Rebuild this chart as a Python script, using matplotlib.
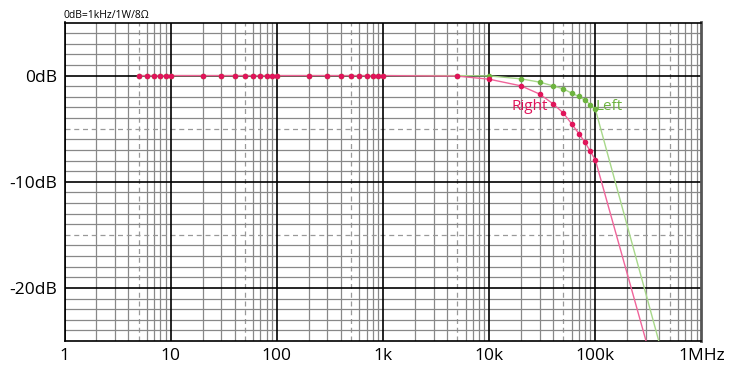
import matplotlib.pyplot as plt
import numpy as np

plt.rcParams['font.family'] = ['Open Sans', 'DejaVu Sans']

# Frequency response data (Hz, dB)
freq = [5, 6, 7, 8, 9, 10, 20, 30, 40, 50, 60, 70, 80, 90, 100,
        200, 300, 400, 500, 600, 700, 800, 900, 1000, 5000, 10000,
        20000, 30000, 40000, 50000, 60000, 70000, 80000, 90000, 100000, 500000]
left_db = [0] * 24 + [0.0, -0.03,
           -0.31, -0.62, -0.97, -1.25, -1.66, -1.97, -2.31, -2.75, -3.16, -28.7]
right_db = [0] * 24 + [-0.05, -0.34,
            -0.97, -1.75, -2.66, -3.53, -4.56, -5.47, -6.29, -7.15, -7.94, -32.9]

x_ticks = [1, 10, 100, 1000, 10000, 100000, 1000000]
x_labels = ["1", "10", "100", "1k", "10k", "100k", "1MHz"]
y_ticks = [0, -10, -20]
y_labels = ["0dB", "-10dB", "-20dB"]

left_line = "#a8d88a"
left_mark = "#6db33f"
right_line = "#f0649a"
right_mark = "#e0145a"

fig = plt.figure(figsize=(7.4, 3.7), dpi=100)
ax = fig.add_axes([64.5 / 740, 29 / 370, 637 / 740, 318.5 / 370])
ax.set_xscale('log')
ax.set_xlim(1, 1e6)
ax.set_ylim(-25, 5)

# grid: vertical lines
for dec in range(6):
    base = 10 ** dec
    for m in range(2, 10):
        if m == 5:
            ax.axvline(m * base, color="#999999", lw=0.9, ls=(0, (4, 3)), zorder=1)
        else:
            ax.axvline(m * base, color="#888888", lw=0.9, zorder=1)
    ax.axvline(base, color="black", lw=1.2, zorder=2)

# grid: horizontal lines
for d in range(-25, 5):
    if d % 10 == 0:
        ax.axhline(d, color="black", lw=1.2, zorder=2)
    elif d % 5 == 0:
        ax.axhline(d, color="#999999", lw=0.9, ls=(0, (4, 3)), zorder=1)
    else:
        ax.axhline(d, color="#888888", lw=0.9, zorder=1)

ax.plot(freq, left_db, color=left_line, lw=1, zorder=3)
ax.plot(freq, right_db, color=right_line, lw=1, zorder=3)
ax.plot(freq, left_db, ls="none", marker="o", ms=3, color=left_mark, zorder=4)
ax.plot(freq, right_db, ls="none", marker="o", ms=3, color=right_mark, zorder=5)

ax.text(24300, -2.95, "Right", color=right_mark, fontsize=11, ha="center", va="center", zorder=6)
ax.text(101000, -2.95, "Left", color=left_mark, fontsize=11, ha="left", va="center", zorder=6)

ax.set_xticks(x_ticks)
ax.set_xticklabels(x_labels, fontsize=12.5)
ax.set_xticks([], minor=True)
ax.set_yticks(y_ticks)
ax.set_yticklabels(y_labels, fontsize=12.5)
ax.tick_params(length=0, pad=5)

for s in ax.spines.values():
    s.set_color("black")
    s.set_linewidth(1.2)
ax.spines["right"].set_color("#555555")
ax.spines["right"].set_linewidth(2)

fig.text(64 / 740, 1 - 15 / 370, "0dB=1kHz/1W/8Ω", fontsize=7.5, ha="left", va="center")

fig.savefig("out.png", dpi=100)
